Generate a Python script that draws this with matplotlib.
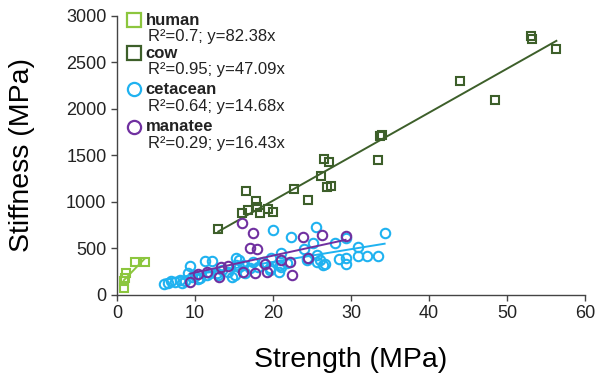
import numpy as np
import matplotlib
matplotlib.use("Agg")
import matplotlib.pyplot as plt

plt.rcParams['font.family'] = ['Liberation Sans', 'DejaVu Sans']

# strength (MPa) vs stiffness (MPa) per group
human_x = [0.9, 0.95, 1.05, 1.15, 2.3, 3.6]
human_y = [72, 150, 180, 235, 352, 348]

cow_x = [13.0, 16.5, 16.0, 16.8, 17.8, 17.9, 18.3, 19.3, 20.0, 22.7, 24.5, 26.2,
         26.5, 27.2, 26.9, 27.4, 33.4, 33.7, 34.0, 43.9, 48.4, 53.1, 53.2, 56.3]
cow_y = [706, 1118, 878, 914, 1010, 950, 878, 924, 896, 1139, 1021, 1283,
         1459, 1430, 1164, 1172, 1451, 1709, 1717, 2300, 2096, 2784, 2752, 2641]

cet_x = [6.1, 6.6, 7.0, 7.5, 8.1, 8.3, 8.7, 9.1, 9.4, 9.65, 10.0, 10.4, 10.6, 11.3,
         11.5, 11.9, 12.2, 12.8, 13.0, 13.5, 14.3, 14.7, 15.1, 15.3, 15.3, 15.6,
         15.6, 16.2, 16.4, 17.1, 17.5, 18.1, 18.7, 19.6, 19.6, 19.8, 20.0, 20.8,
         20.9, 21.0, 21.0, 21.8, 22.3, 24.0, 24.3, 24.3, 25.1, 25.5, 25.6, 25.6,
         26.0, 26.4, 26.7, 27.9, 28.5, 29.3, 29.4, 29.4, 30.9, 30.9, 32.0, 33.5, 34.3]
cet_y = [115, 132, 154, 143, 161, 126, 150, 233, 312, 197, 200, 169, 179, 369,
         215, 233, 369, 240, 210, 265, 251, 190, 215, 394, 322, 304,
         376, 322, 233, 287, 358, 304, 358, 287, 269, 401, 699, 251,
         322, 448, 304, 341, 623, 494, 394, 376, 556, 734, 430, 358,
         376, 322, 330, 556, 387, 330, 394, 609, 519, 423, 423, 423, 663]

man_x = [9.4, 10.4, 11.5, 13.1, 13.4, 14.3, 16.0, 16.1, 17.1, 17.5, 17.7, 18.0,
         19.0, 19.2, 21.0, 22.2, 22.4, 23.8, 24.5, 26.3, 29.3]
man_y = [143, 226, 251, 197, 304, 312, 771, 251, 502, 663, 233, 491,
         330, 251, 380, 358, 208, 620, 400, 645, 630]

labels = ['human', 'cow', 'cetacean', 'manatee']
stats = ['R\u00b2=0.7; y=82.38x', 'R\u00b2=0.95; y=47.09x',
         'R\u00b2=0.64; y=14.68x', 'R\u00b2=0.29; y=16.43x']
colors = ['#8cc63e', '#3d5f2a', '#1fb2f0', '#7030a0']
markers = ['s', 's', 'o', 'o']
sizes = [6.0, 6.0, 6.8, 6.8]
groups = [(human_x, human_y), (cow_x, cow_y), (cet_x, cet_y), (man_x, man_y)]

fig = plt.figure(figsize=(5.96, 3.78), dpi=100)
ax = fig.add_axes([0.196, 0.22, 0.786, 0.738])

for (gx, gy), c, m, s in zip(groups, colors, markers, sizes):
    gx = np.array(gx)
    gy = np.array(gy)
    ax.plot(gx, gy, linestyle='none', marker=m, ms=s, mfc='none', mec=c, mew=1.5)
    k, b = np.polyfit(gx, gy, 1)
    xs = np.array([gx.min(), gx.max()])
    ax.plot(xs, k * xs + b, color=c, lw=1.4)

# legend drawn by hand so the marker sits next to the bold name
rows = [(0.984, 0.926), (0.866, 0.806), (0.737, 0.674), (0.603, 0.541)]
for (y1, y2), lab, st, c, m in zip(rows, labels, stats, colors, markers):
    ax.plot([0.037], [y1], transform=ax.transAxes, marker=m, ms=9.5, mfc='white',
            mec=c, mew=1.6, linestyle='none', clip_on=False)
    ax.text(0.062, y1, lab, transform=ax.transAxes, fontsize=12, fontweight='bold',
            va='center', ha='left', color='#222222')
    ax.text(0.066, y2, st, transform=ax.transAxes, fontsize=12,
            va='center', ha='left', color='#222222')

ax.set_xlim(0, 60)
ax.set_ylim(0, 3000)
ax.set_xticks(range(0, 61, 10))
ax.set_yticks(range(0, 3001, 500))
for s in ['top', 'right']:
    ax.spines[s].set_visible(False)
for s in ['left', 'bottom']:
    ax.spines[s].set_color('#444444')
    ax.spines[s].set_linewidth(1.0)
ax.tick_params(direction='out', length=4, width=1.0, color='#444444',
               labelsize=13, labelcolor='#222222')
ax.set_xlabel('Strength (MPa)', fontsize=20.5, labelpad=18)
ax.set_ylabel('Stiffness (MPa)', fontsize=20.5, labelpad=22)

fig.savefig('out.png', dpi=100)
